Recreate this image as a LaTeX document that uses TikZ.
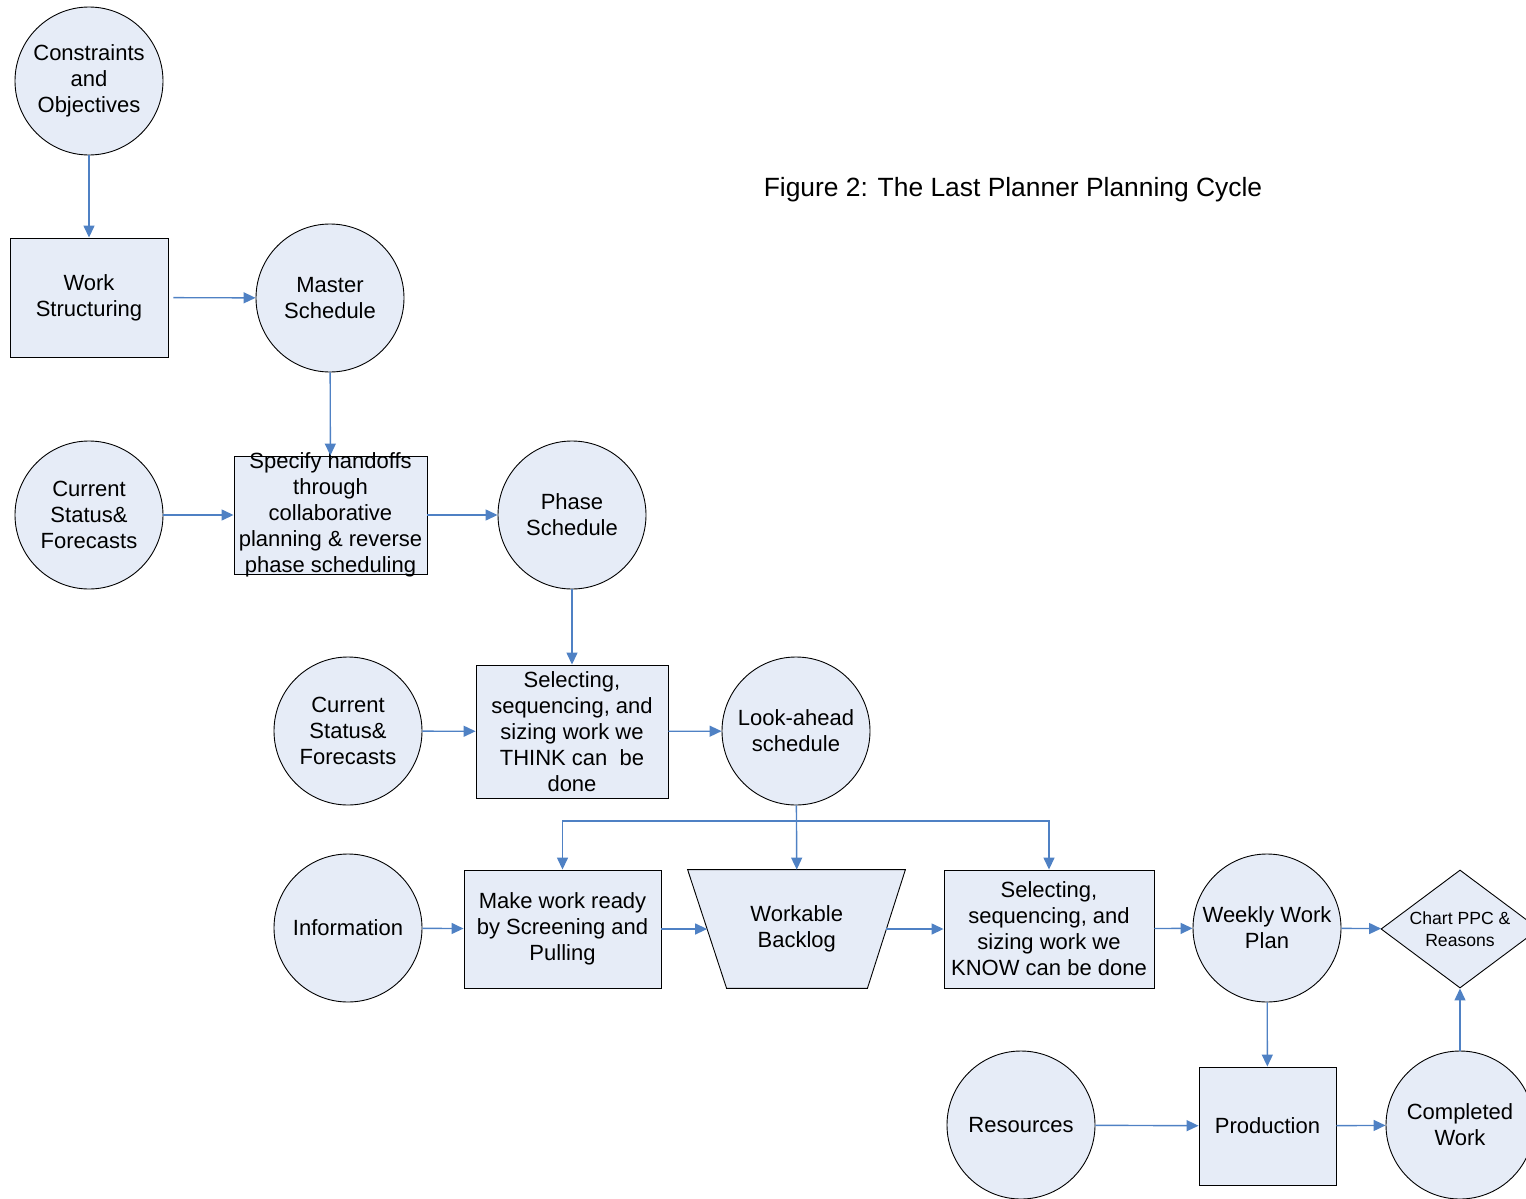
\documentclass[tikz,border=0pt]{standalone}
\usepackage{fontspec}
\setmainfont{Liberation Sans}
\usetikzlibrary{arrows.meta,shapes.geometric,calc,backgrounds}
\definecolor{nodefill}{RGB}{230,236,247}
\definecolor{flow}{RGB}{79,129,196}
\tikzset{
  every node/.style={font=\fontsize{11}{13}\selectfont, align=center, inner sep=0pt},
  base/.style={draw=black, line width=0.45pt, fill=nodefill},
  circ/.style={base, circle, minimum size=74pt},
  box/.style={base, rectangle},
  arr/.style={draw=flow, line width=0.7pt, -{Triangle[length=6pt,width=5.5pt]}},
}
\begin{document}
\begin{tikzpicture}[x=0.5pt, y=-0.5pt]
  \useasboundingbox (0,0) rectangle (1526,1199);
  \clip (0,0) rectangle (1526,1199);

  % title
  \node[font=\fontsize{13.2}{16}\selectfont] (title) at (1013,189.5) {Figure 2: The Last Planner Planning Cycle};

  % master level
  \node[circ] (cons) at (89,81) {Constraints\\and\\Objectives};
  \node[box, minimum width=79pt, minimum height=59.5pt] (ws) at (89,297.5) {Work\\Structuring};
  \node[circ] (master) at (330,298) {Master\\Schedule};

  % phase level
  \node[circ] (cur1) at (89,515) {Current\\Status\&\\Forecasts};
  \node[box, minimum width=96.5pt, minimum height=59pt,
        label={[align=center]center:Specify handoffs\\through\\collaborative\\planning \& reverse\\phase scheduling}] (spec) at (330.5,515) {};
  \node[circ] (phase) at (572,515) {Phase\\Schedule};

  % look-ahead level
  \node[circ] (cur2) at (348,731) {Current\\Status\&\\Forecasts};
  \node[box, minimum width=96pt, minimum height=66.5pt] (think) at (572,731.5) {Selecting,\\sequencing, and\\sizing work we\\THINK can\ \ be\\done};
  \node[circ] (look) at (796,731) {Look-ahead\\schedule};

  % weekly level
  \node[circ] (info) at (348,928) {Information};
  \node[box, minimum width=98.5pt, minimum height=59pt] (make) at (562.5,929) {Make work ready\\by Screening and\\Pulling};
  % backlog: the node spans the mid-height width of the funnel outline drawn behind it
  \node[minimum width=89.25pt, minimum height=59pt] (backlog) at (796.75,929) {Workable\\Backlog};
  \begin{scope}[on background layer]
    \path[base] ($(backlog.north west)+(-19.5,0)$) -- ($(backlog.north east)+(19,0)$)
      -- ($(backlog.south east)+(-19,0)$) -- ($(backlog.south west)+(19.5,0)$) -- cycle;
  \end{scope}
  \node[box, minimum width=105pt, minimum height=59pt] (know) at (1049,929) {Selecting,\\sequencing, and\\sizing work we\\KNOW can be done};
  \node[circ] (weekly) at (1267,928) {Weekly Work\\Plan};
  \node[base, diamond, aspect=1.339, minimum width=79pt, minimum height=59pt,
        font=\fontsize{8.8}{11}\selectfont] (chart) at (1460,929) {Chart PPC \&\\Reasons};

  % production level
  \node[circ] (res) at (1021,1125) {Resources};
  \node[box, minimum width=68.5pt, minimum height=59pt] (prod) at (1267.5,1126) {Production};
  \node[circ] (done) at (1460,1125) {Completed\\Work};

  % connectors
  \draw[arr] (cons) -- (ws);
  \draw[arr, shorten <=2.5pt] (ws) -- (master);
  \draw[arr] (master) -- (spec);
  \draw[arr] (cur1) -- (spec);
  \draw[arr] (spec) -- (phase);
  \draw[arr] (phase) -- (think);
  \draw[arr] (cur2) -- (think);
  \draw[arr] (think) -- (look);

  \coordinate (bus) at (796,821);
  \draw[arr] (look) -- (backlog.north);
  \draw[arr] (bus) -| (make.north);
  \draw[arr] (bus) -| (know.north);

  \draw[arr] (info) -- (make);
  \draw[arr] (make) -- (backlog);
  \draw[arr] (backlog) -- (know);
  \draw[arr] (know) -- (weekly);
  \draw[arr] (weekly) -- (chart);
  \draw[arr] (weekly) -- (prod);
  \draw[arr] (res) -- (prod);
  \draw[arr] (prod) -- (done);
  \draw[arr] (done) -- (chart);
\end{tikzpicture}
\end{document}
